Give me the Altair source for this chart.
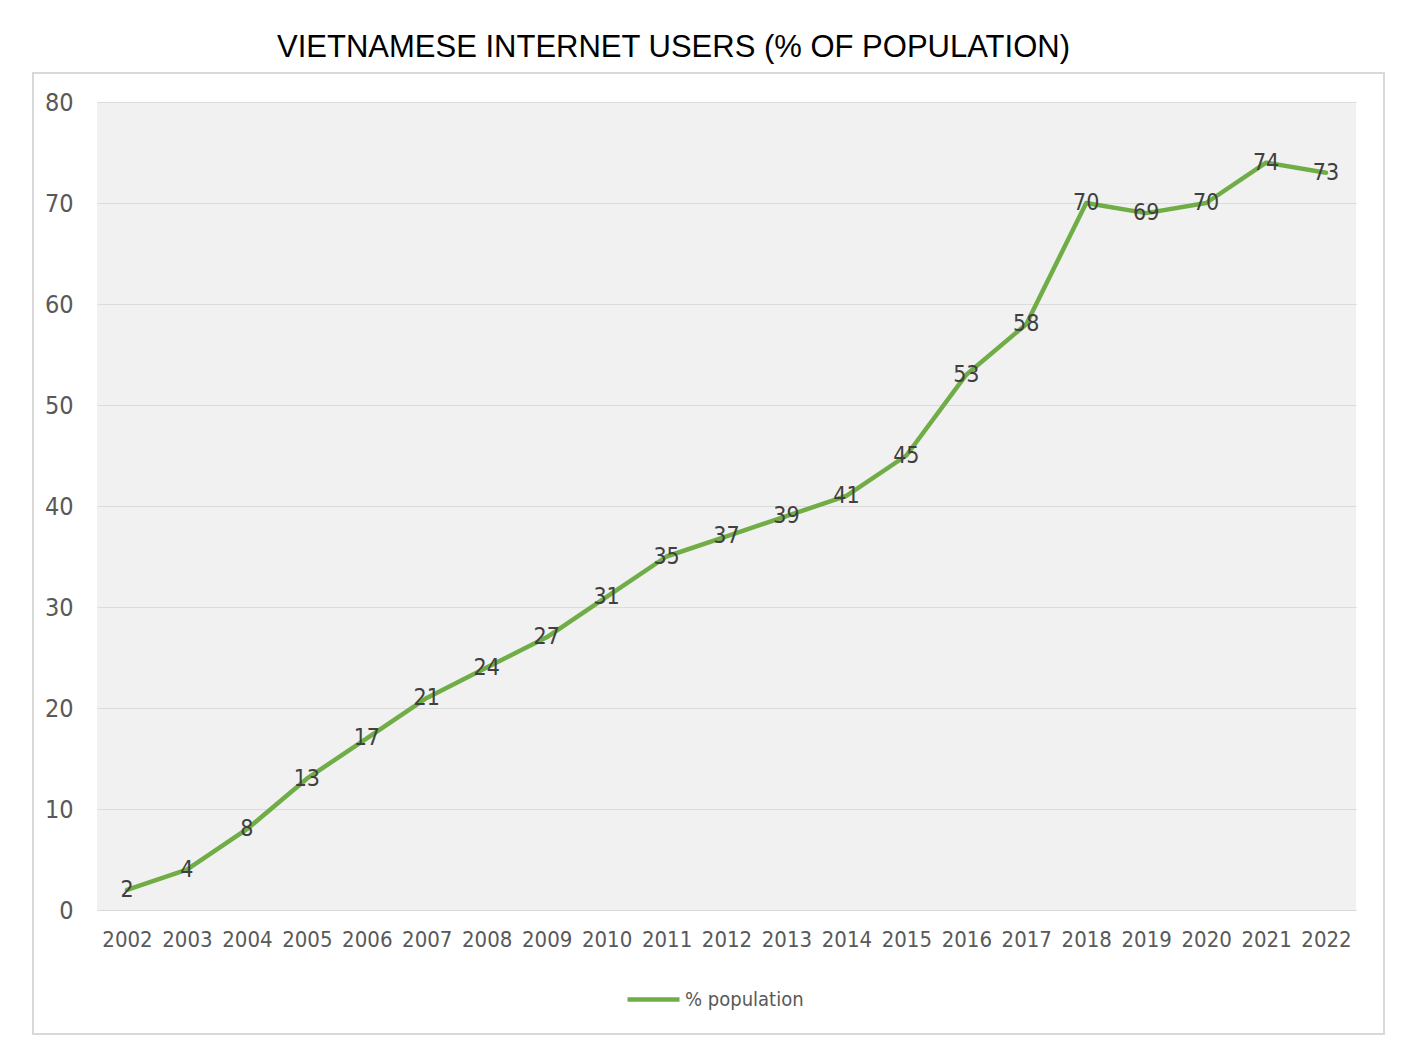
import altair as alt
import pandas as pd

years = [str(y) for y in range(2002, 2023)]
values = [2, 4, 8, 13, 17, 21, 24, 27, 31, 35, 37, 39, 41, 45, 53, 58, 70, 69, 70, 74, 73]
series_name = "% population"
title_text = "VIETNAMESE INTERNET USERS (% OF POPULATION)"

df = pd.DataFrame({"year": years, "value": values, "series": [series_name] * len(years)})

FONT = "DejaVu Sans Condensed, sans-serif"
GREEN = "#70AD47"

x_enc = alt.X("year:O", sort=years, title=None,
              scale=alt.Scale(type="point", padding=0.5),
              axis=alt.Axis(labelAngle=0, labelFont=FONT, labelFontSize=22,
                            labelColor="#595959", ticks=False, domain=True,
                            domainColor="#d9d9d9", grid=False, labelPadding=19))
y_enc = alt.Y("value:Q", title=None,
              scale=alt.Scale(domain=[0, 80], nice=False),
              axis=alt.Axis(values=list(range(0, 81, 10)), labelFont=FONT,
                            labelFontSize=25, labelColor="#595959", ticks=False,
                            domain=False, gridColor="#dcdcdc", gridWidth=1.2,
                            labelPadding=24))

border = alt.Chart(pd.DataFrame({"a": [0]})).mark_rect(
    fill="transparent", stroke="#d9d9d9", strokeWidth=2
).encode(x=alt.value(-64), x2=alt.value(1287), y=alt.value(-29), y2=alt.value(932))

line = alt.Chart(df).mark_line(strokeWidth=4.5, strokeCap="round", strokeJoin="round").encode(
    x=x_enc, y=y_enc,
    color=alt.Color("series:N", title=None,
                    scale=alt.Scale(domain=[series_name], range=[GREEN]),
                    legend=alt.Legend(orient="none", legendX=528, legendY=869,
                                      padding=0, symbolType="stroke",
                                      symbolStrokeWidth=4.5, symbolSize=2704,
                                      labelFont=FONT, labelFontSize=20,
                                      labelColor="#595959", labelOffset=3)),
)

labels = alt.Chart(df).mark_text(font=FONT, fontSize=23, color="#404040",
                                 baseline="middle", align="center").encode(
    x=alt.X("year:O", sort=years), y="value:Q", text="value:Q")

chart = alt.layer(border, line, labels).properties(
    width=1259, height=808,
    background="white",
    padding={"left": 89, "top": 94, "right": 40, "bottom": 130},
    autosize=alt.AutoSizeParams(type="none"),
    title=alt.Title(title_text, font="Liberation Sans, Arial, sans-serif", fontSize=31,
                    fontWeight="normal", color="#000000", anchor="middle",
                    dx=-53, offset=-16, baseline="alphabetic"),
).configure_view(fill="#f1f1f1", strokeWidth=0)

chart.save("out.html", embed_options={"renderer": "svg", "actions": False})
